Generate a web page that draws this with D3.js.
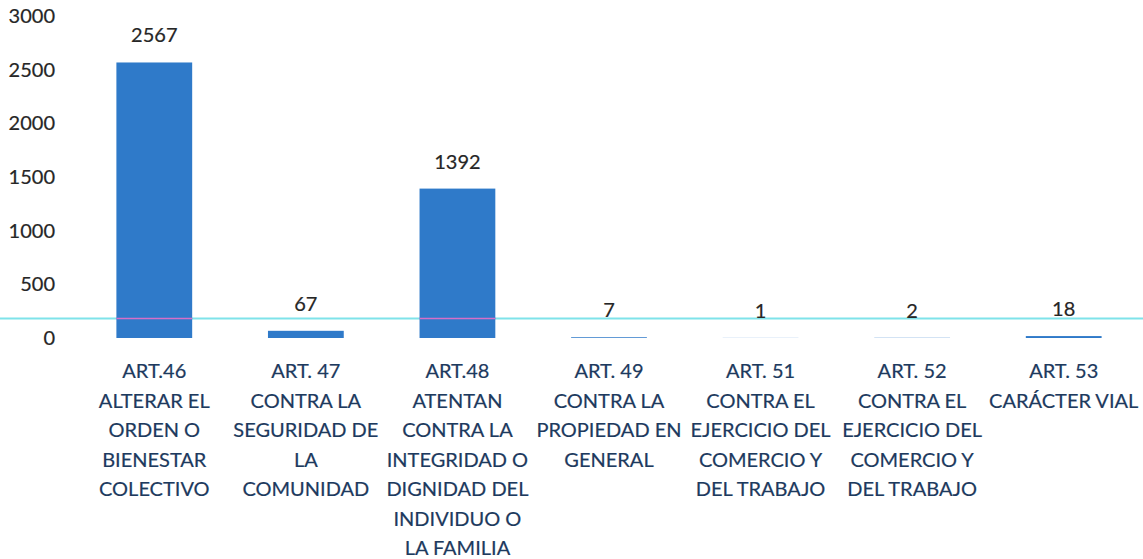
<!DOCTYPE html>
<html>
<head>
<meta charset="utf-8">
<script src="https://cdn.jsdelivr.net/npm/d3@7"></script>
<style>
  body { margin: 0; background: #fff; }
  svg text { font-family: Lato, "Open Sans", sans-serif; stroke-width: 0.2px; }
</style>
</head>
<body>
<div id="chart"></div>
<script>
// categorias (una linea por elemento) y valores
var categories = [
  "ART.46\nALTERAR EL\nORDEN O\nBIENESTAR\nCOLECTIVO",
  "ART. 47\nCONTRA LA\nSEGURIDAD DE\nLA\nCOMUNIDAD",
  "ART.48\nATENTAN\nCONTRA LA\nINTEGRIDAD O\nDIGNIDAD DEL\nINDIVIDUO O\nLA FAMILIA",
  "ART. 49\nCONTRA LA\nPROPIEDAD EN\nGENERAL",
  "ART. 51\nCONTRA EL\nEJERCICIO DEL\nCOMERCIO Y\nDEL TRABAJO",
  "ART. 52\nCONTRA EL\nEJERCICIO DEL\nCOMERCIO Y\nDEL TRABAJO",
  "ART. 53\nCARÁCTER VIAL"
];
var values = [2567, 67, 1392, 7, 1, 2, 18];
var yTicks = [0, 500, 1000, 1500, 2000, 2500, 3000];

var width = 1143, height = 559;
var svg = d3.select('#chart').append('svg').attr('width', width).attr('height', height);

var x = d3.scaleBand().domain(categories).range([78.5, 1139.5]).paddingInner(0.5).paddingOuter(0.25);
var y = d3.scaleLinear().domain([0, 3000]).range([338, 16]);

// eje y sin linea
var yAxis = svg.append('g')
  .attr('transform', 'translate(55,0)')
  .call(d3.axisLeft(y).tickValues(yTicks).tickSize(0).tickPadding(0).tickFormat(d3.format('d')));
yAxis.select('.domain').remove();
yAxis.selectAll('text')
  .attr('fill', '#262626')
  .attr('stroke', '#262626')
  .style('font-size', '20px');

// linea del escaneo
svg.append('line')
  .attr('x1', 0).attr('x2', width)
  .attr('y1', 318.5).attr('y2', 318.5)
  .attr('stroke', '#7fe3ea').attr('stroke-width', 2);

svg.selectAll('rect.bar')
  .data(values)
  .enter().append('rect')
  .attr('class', 'bar')
  .attr('x', function(d, i) { return x(categories[i]); })
  .attr('width', x.bandwidth())
  .attr('y', function(d) { return y(d); })
  .attr('height', function(d) { return y(0) - y(d); })
  .attr('fill', '#2f7ac9');

// tramo rosado sobre las barras altas
svg.selectAll('line.scan')
  .data(values.filter(function(d) { return y(d) < 318; }))
  .enter().append('line')
  .attr('x1', function(d) { return x(categories[values.indexOf(d)]); })
  .attr('x2', function(d) { return x(categories[values.indexOf(d)]) + x.bandwidth(); })
  .attr('y1', 318.5).attr('y2', 318.5)
  .attr('stroke', '#d76fc8').attr('stroke-width', 1.5);

// etiquetas de valor
svg.selectAll('text.val')
  .data(values)
  .enter().append('text')
  .attr('class', 'val')
  .attr('x', function(d, i) { return x(categories[i]) + x.bandwidth() / 2; })
  .attr('y', function(d) { return y(d) - 20; })
  .attr('text-anchor', 'middle')
  .attr('fill', '#262626')
  .attr('stroke', '#262626')
  .style('font-size', '20px')
  .text(function(d) { return d; });

// etiquetas de categoria
var cat = svg.selectAll('text.cat')
  .data(categories)
  .enter().append('text')
  .attr('class', 'cat')
  .attr('text-anchor', 'middle')
  .attr('fill', '#1d3a5e')
  .attr('stroke', '#1d3a5e')
  .style('font-size', '20px');
cat.each(function(c) {
  var t = d3.select(this);
  c.split('\n').forEach(function(line, j) {
    t.append('tspan')
      .attr('x', x(c) + x.bandwidth() / 2)
      .attr('y', 378 + j * 29.5)
      .text(line);
  });
});
</script>
</body>
</html>
